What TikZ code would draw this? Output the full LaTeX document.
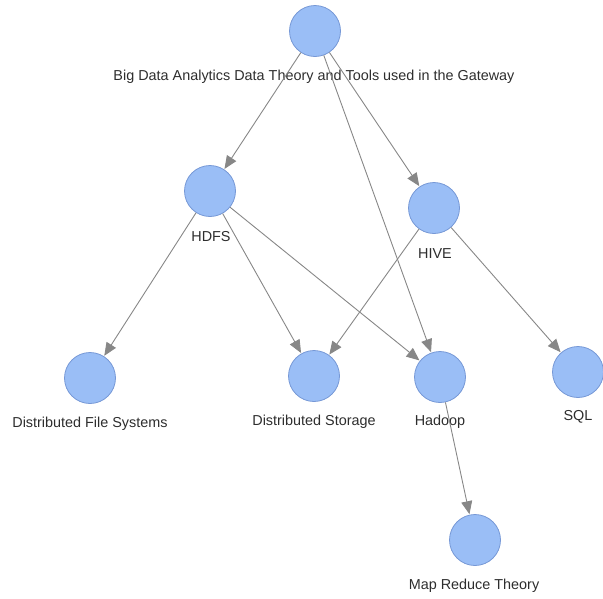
\documentclass[tikz,border=0pt]{standalone}
\usepackage{fontspec}
\setmainfont{Liberation Sans}
\usetikzlibrary{arrows.meta}
\definecolor{nodeblue}{RGB}{154,190,246}
\definecolor{nodeline}{RGB}{118,152,214}
\definecolor{edgegray}{RGB}{135,135,135}
\definecolor{txtgray}{RGB}{45,45,45}
\tikzset{
  topic/.style={circle,draw=nodeline,fill=nodeblue,line width=0.8pt,minimum size=51pt,inner sep=0pt},
  tagtext/.style={text=txtgray,font=\fontsize{14.4}{16}\selectfont,inner sep=0pt},
  link/.style={draw=edgegray,line width=0.9pt,-{Triangle[length=13pt,width=11pt]},shorten >=0.5pt}
}

\begin{document}
\begin{tikzpicture}[x=1pt,y=-1pt]
  \useasboundingbox (0,0) rectangle (603,598);
  \node[topic] (bigdata) at (315,31) {};
  \node[topic] (hdfs)    at (210,191) {};
  \node[topic] (hive)    at (434,208) {};
  \node[topic] (dfs)     at (90,378) {};
  \node[topic] (dstore)  at (314,376) {};
  \node[topic] (hadoop)  at (440,377) {};
  \node[topic] (sql)     at (578,372) {};
  \node[topic] (mapred)  at (475,540) {};
  % labels
  \node[tagtext] (bigdataL) at (314,77) {Big Data Analytics Data Theory and Tools used in the Gateway};
  \node[tagtext] (hdfsL)    at (211,237) {HDFS};
  \node[tagtext] (hiveL)    at (435,254) {HIVE};
  \node[tagtext] (dfsL)     at (90,424) {Distributed File Systems};
  \node[tagtext] (dstoreL)  at (314,422) {Distributed Storage};
  \node[tagtext] (hadoopL)  at (440,422) {Hadoop};
  \node[tagtext] (sqlL)     at (578,417) {SQL};
  \node[tagtext] (mapredL)  at (474,586) {Map Reduce Theory};
  % edges
  \draw[link] (bigdata) -- (hdfs);
  \draw[link] (bigdata) -- (hive);
  \draw[link] (bigdata) -- (hadoop);
  \draw[link] (hdfs) -- (dfs);
  \draw[link] (hdfs) -- (dstore);
  \draw[link] (hdfs) -- (hadoop);
  \draw[link] (hive) -- (dstore);
  \draw[link] (hive) -- (sql);
  \draw[link] (hadoop) -- (mapred);
\end{tikzpicture}
\end{document}
